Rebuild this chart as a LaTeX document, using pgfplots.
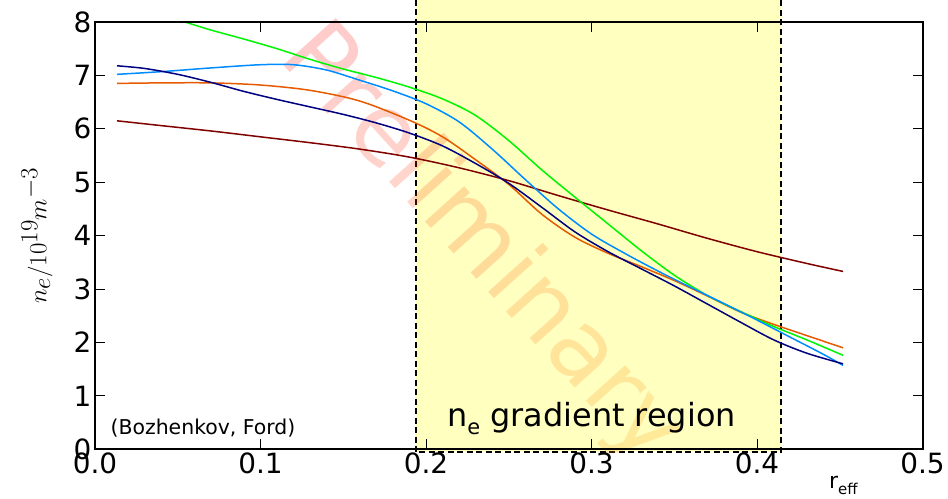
\documentclass[border=0pt]{standalone}
\usepackage{pgfplots}
\pgfplotsset{compat=1.18}
\usepackage{fontspec}
\setmainfont{DejaVu Sans}
\definecolor{cnavy}{RGB}{0,0,128}
\definecolor{cblue}{RGB}{0,140,255}
\definecolor{cgreen}{RGB}{0,245,0}
\definecolor{corange}{RGB}{230,90,0}
\definecolor{cmaroon}{RGB}{128,0,0}
\definecolor{yfill}{RGB}{255,255,192}
\definecolor{wmo}{RGB}{255,150,0}
\begin{document}
\begin{tikzpicture}
\begin{axis}[name=ax, scale only axis, width=827.5bp, height=427.3bp,
  xmin=0, xmax=0.5, ymin=0, ymax=8,
  xtick={0,0.1,0.2,0.3,0.4,0.5},
  xticklabels={0.0,0.1,0.2,0.3,0.4,0.5},
  ytick={0,1,2,3,4,5,6,7,8},
  /pgf/number format/assume math mode=true,
  tick label style={font=\fontsize{28}{28}\selectfont},
  axis line style={line width=2bp},
  tick style={line width=1bp, black},
  major tick length=10bp,
  clip=false, axis on top,
  ylabel={$n_e/10^{19}m^{-3}$},
  ylabel style={at={(rel axis cs:-0.07,0.50)}, anchor=center, font=\fontsize{48}{48}\selectfont},
  every axis plot/.append style={line width=1.5bp, smooth, no markers},
]
\fill[yfill] (axis cs:0.194,-0.056) rectangle (axis cs:0.4145,8.42);
\draw[line width=2bp, dash pattern=on 6bp off 3.5bp] (axis cs:0.194,8.42) -- (axis cs:0.194,-0.056) -- (axis cs:0.4145,-0.056) -- (axis cs:0.4145,8.42);
\node[rotate=-48, text opacity=0.2, font=\fontsize{97}{97}\selectfont] at (axis cs:0.2335,3.83)
  {\textcolor{red}{P}\textcolor{red!90!wmo}{r}\textcolor{red!80!wmo}{e}\textcolor{red!70!wmo}{l}\textcolor{red!60!wmo}{i}\textcolor{red!50!wmo}{m}\textcolor{red!40!wmo}{i}\textcolor{red!30!wmo}{n}\textcolor{red!20!wmo}{a}\textcolor{red!10!wmo}{r}\textcolor{wmo}{y}};

\addplot[cmaroon] coordinates {(0.0133,6.15) (0.04,6.06) (0.07,5.96) (0.10,5.85) (0.13,5.74) (0.16,5.62) (0.19,5.47) (0.22,5.27) (0.25,5.03) (0.28,4.75) (0.31,4.48) (0.34,4.22) (0.37,3.95) (0.40,3.70) (0.43,3.48) (0.452,3.33)};
\addplot[corange] coordinates {(0.0133,6.85) (0.04,6.86) (0.07,6.86) (0.10,6.82) (0.13,6.72) (0.16,6.52) (0.19,6.16) (0.21,5.85) (0.23,5.42) (0.25,4.96) (0.27,4.40) (0.29,3.97) (0.31,3.67) (0.33,3.42) (0.35,3.16) (0.37,2.87) (0.39,2.57) (0.41,2.34) (0.43,2.13) (0.452,1.90)};
\addplot[cgreen] coordinates {(0.0544,8.00) (0.07,7.85) (0.09,7.68) (0.11,7.50) (0.13,7.30) (0.15,7.12) (0.17,6.96) (0.19,6.78) (0.21,6.56) (0.23,6.25) (0.25,5.78) (0.27,5.23) (0.29,4.72) (0.31,4.22) (0.33,3.72) (0.35,3.26) (0.37,2.88) (0.39,2.58) (0.41,2.30) (0.43,2.05) (0.452,1.76)};
\addplot[cblue] coordinates {(0.0133,7.02) (0.04,7.07) (0.07,7.14) (0.10,7.20) (0.12,7.20) (0.14,7.10) (0.16,6.91) (0.18,6.71) (0.20,6.47) (0.22,6.13) (0.24,5.62) (0.26,5.05) (0.28,4.50) (0.30,4.03) (0.32,3.67) (0.34,3.34) (0.36,3.03) (0.38,2.73) (0.40,2.42) (0.42,2.10) (0.44,1.78) (0.452,1.57)};
\addplot[cnavy] coordinates {(0.0133,7.18) (0.03,7.13) (0.05,7.02) (0.07,6.87) (0.09,6.70) (0.11,6.55) (0.13,6.41) (0.15,6.27) (0.17,6.11) (0.19,5.92) (0.21,5.68) (0.23,5.35) (0.25,4.98) (0.27,4.53) (0.29,4.07) (0.31,3.70) (0.33,3.38) (0.35,3.06) (0.37,2.72) (0.39,2.38) (0.41,2.05) (0.43,1.80) (0.452,1.60)};

\node[anchor=base west, font=\fontsize{20.5}{20.5}\selectfont] at (axis cs:0.0073,0.27) {(Bozhenkov, Ford)};
\node[anchor=base west, font=\fontsize{32}{32}\selectfont, inner sep=0pt] at (axis cs:0.2127,0.42) {n\raisebox{-0.25em}{\fontsize{21}{21}\selectfont e} gradient region};
\node[anchor=base west, font=\fontsize{22}{22}\selectfont, inner sep=0pt] at (axis cs:0.4435,-0.74) {r\raisebox{-0.28em}{\fontsize{15}{15}\selectfont eff}};
\end{axis}
\pgfresetboundingbox
\path ([shift={(-95bp,-49.7bp)}]ax.south west) rectangle ([shift={(25.5bp,22bp)}]ax.north east);
\end{tikzpicture}
\end{document}
